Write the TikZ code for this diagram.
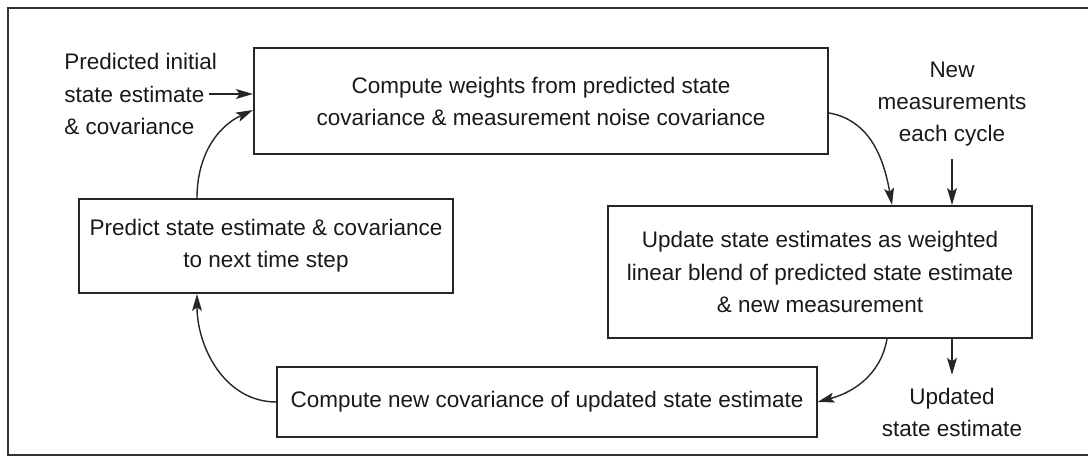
\documentclass[tikz,border=0pt]{standalone}
\usepackage{fontspec}
\setmainfont{Liberation Sans}
\usepackage{tikz}
\usetikzlibrary{arrows.meta, calc}

\begin{document}
\begin{tikzpicture}[x=0.025cm, y=0.025cm,
    procbox/.style={draw=black!85, line width=1.4pt, align=center, text=black!90, inner sep=0pt},
    note/.style={align=center, text=black!90, inner sep=1pt},
    flow/.style={-{Stealth[length=12pt, width=7pt, inset=2.5pt]}, line width=1pt, draw=black!85},
    font=\fontsize{16}{22.8}\selectfont]
  \useasboundingbox (0,0) rectangle (1088,458);
  \draw[line width=1.8pt, black!80] (1088,450) -- (8,450) -- (8,3) -- (1088,3);

  \node[procbox, minimum width=14.35cm, minimum height=2.65cm] (wts) at (541,357)
    {Compute weights from predicted state\\covariance \& measurement noise covariance};
  \node[procbox, minimum width=9.35cm, minimum height=2.35cm] (pred) at (266,212)
    {Predict state estimate \& covariance\\to next time step};
  \node[procbox, minimum width=10.6cm, minimum height=3.3cm] (upd) at (820,186)
    {Update state estimates as weighted\\linear blend of predicted state estimate\\\& new measurement};
  \node[procbox, minimum width=13.475cm, minimum height=1.75cm] (comp) at (547,56)
    {Compute new covariance of updated state estimate};

  \node[note, align=left, anchor=west, inner sep=0pt] (init) at (64,364)
    {Predicted initial\\state estimate\\\& covariance};
  \node[note] (newm) at (952,354) {New\\measurements\\each cycle};
  \node[note] (outl) at (952,46) {Updated\\state estimate};

  \draw[flow] ($(init.east)+(-8,0)$) -- (init.east -| wts.west);
  \draw[flow] ($(pred.north)+(-69,0)$) to[out=90, in=205] ($(wts.west)+(0,-9)$);
  \draw[flow] ($(wts.east)+(0,-12)$) to[out=-10, in=100] ($(upd.north)+(72,0)$);
  \draw[flow, shorten <=8pt] (newm) -- (newm |- upd.north);
  \draw[flow] ($(upd.south)+(67,0)$) to[out=260, in=15] (comp.east);
  \draw[flow] (comp.west) to[out=180, in=-90] ($(pred.south)+(-69,0)$);
  \draw[flow, shorten >=8pt] (newm |- upd.south) -- (outl);
\end{tikzpicture}
\end{document}
